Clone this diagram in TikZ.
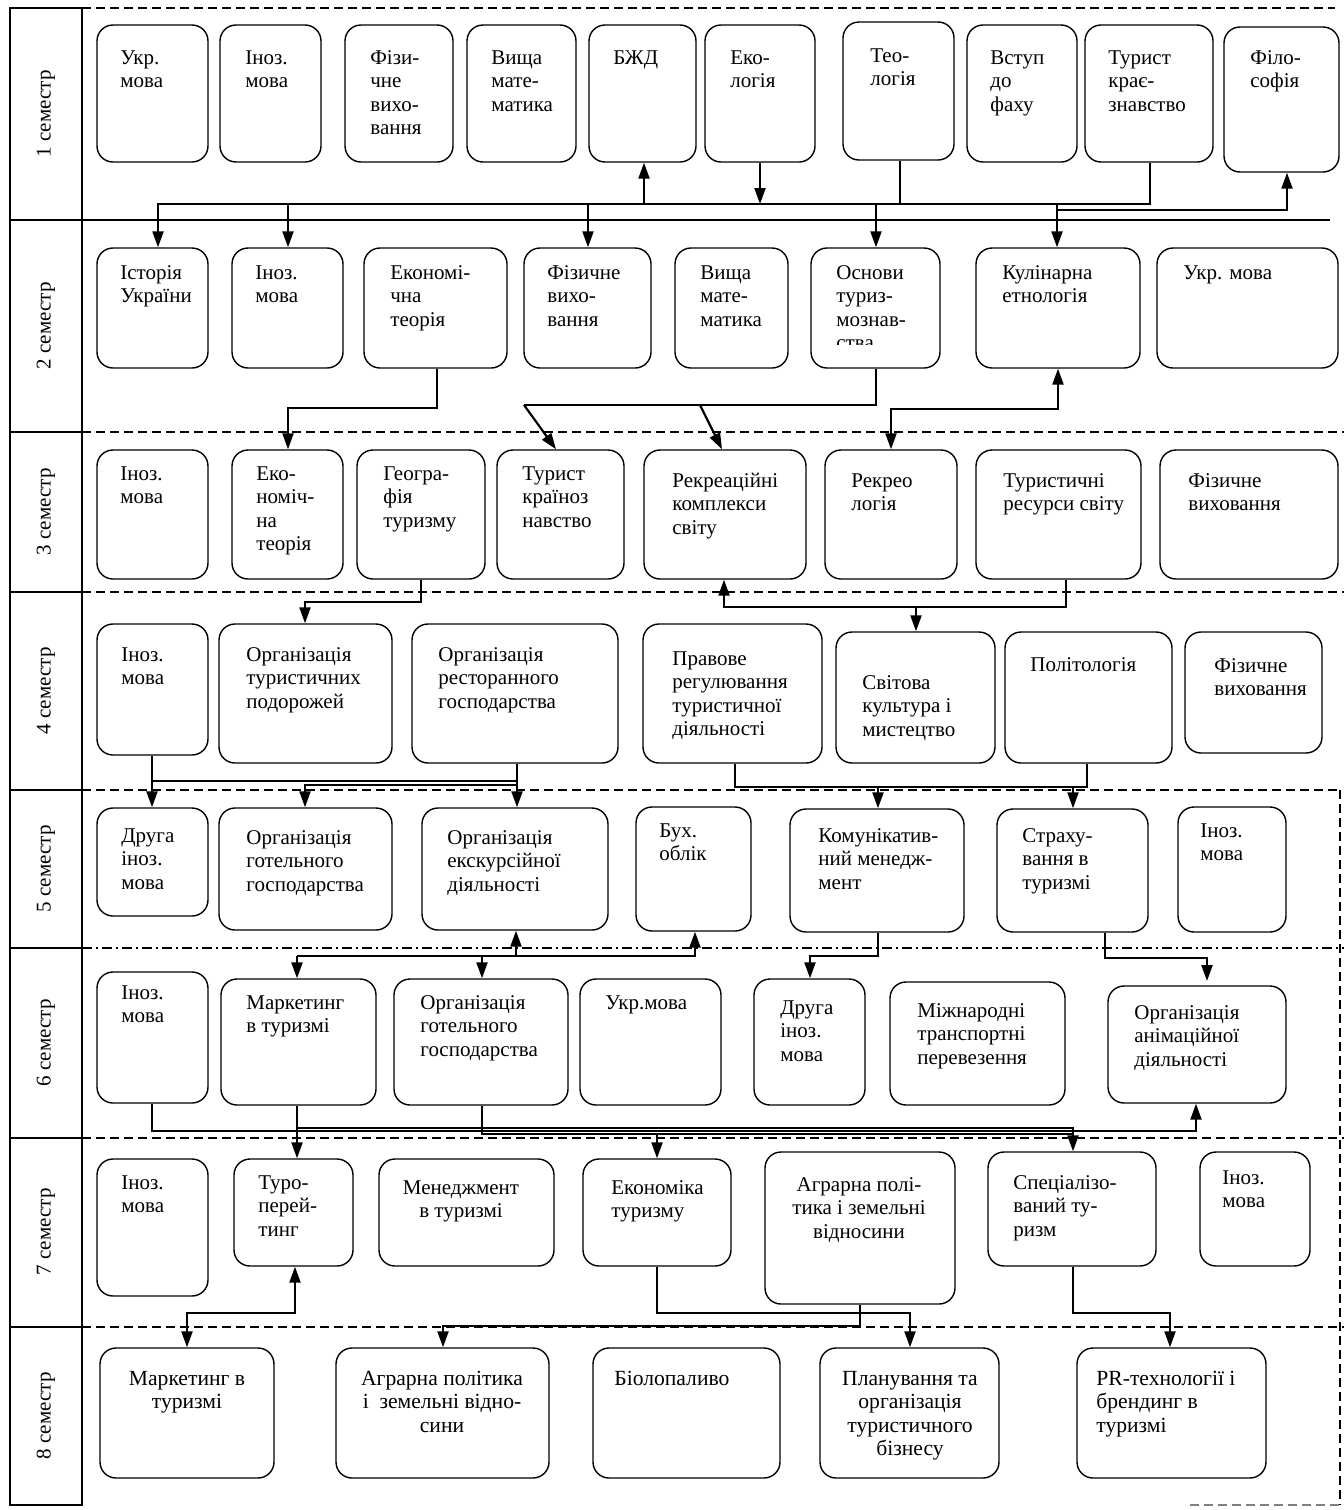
\documentclass[tikz,border=0pt]{standalone}
\usepackage{fontspec}
\setmainfont{Liberation Serif}
\usetikzlibrary{arrows.meta,fit}
\newcommand\fnN{\fontsize{10.5}{11.75}\selectfont}
\newcommand\fnR{\fontsize{10.8}{11.75}\selectfont}
\newcommand\bx[5]{\node[box, fit={(#2,#3) (#4,#5)}] (#1) {};}
\newcommand\tx[5]{\node[#2] (#1) at ({#3},{#4-10}) {\rule{0pt}{8.5pt}#5};}
\tikzset{
  box/.style={draw, rounded corners=8pt, line width=0.7pt, inner sep=0pt},
  tl/.style={anchor=north west, align=left, inner sep=0pt, font=\fnN},
  tc/.style={anchor=north, align=center, inner sep=0pt, font=\fnN},
  ln/.style={line width=1.1pt},
  arr/.style={ln, -{Triangle[length=8pt,width=5.5pt]}},
  arrb/.style={ln, {Triangle[length=8pt,width=5.5pt]}-{Triangle[length=8pt,width=5.5pt]}},
  sep/.style={line width=0.8pt, dash pattern=on 4.5pt off 2.5pt},
  sepdd/.style={line width=0.8pt, dash pattern=on 5pt off 2pt on 1pt off 2pt},
  lab/.style={rotate=90, font=\fnN, inner sep=0pt}
}
\begin{document}
\begin{tikzpicture}[x=0.5pt,y=-0.5pt]
\useasboundingbox (0,0) rectangle (1344,1510);
% left column and separators
\draw[line width=0.8pt] (10,8) rectangle (82,1505);
\foreach \yy in {432,592,790,948,1138,1327} {\draw[line width=0.8pt] (10,\yy) -- (82,\yy);}
\draw[line width=0.8pt] (10,220) -- (1330,220);
\draw[sep] (82,8) -- (1335,8);
\draw[sep] (82,432) -- (1344,432);
\draw[sep] (82,592) -- (1344,592);
\draw[sep] (82,790) -- (1340,790);
\draw[sepdd] (82,948) -- (1344,948);
\draw[sep] (82,1138) -- (1344,1138);
\draw[sep] (82,1327) -- (1344,1327);
\draw[sep] (1340,790) -- (1340,1505);
\draw[sep, gray] (1190,1505) -- (1340,1505);
\node[lab] (s1) at (46,114) {1 семестр};
\node[lab] (s2) at (46,326) {2 семестр};
\node[lab] (s3) at (46,512) {3 семестр};
\node[lab] (s4) at (46,691) {4 семестр};
\node[lab] (s5) at (46,869) {5 семестр};
\node[lab] (s6) at (46,1043) {6 семестр};
\node[lab] (s7) at (46,1232) {7 семестр};
\node[lab] (s8) at (46,1416) {8 семестр};
% ---- row 1
\bx{u1}{97}{25}{208}{162}   \tx{u1t}{tl}{120}{57}{Укр.\\мова}
\bx{i1}{220}{25}{321}{162}  \tx{i1t}{tl}{245}{57}{Іноз.\\мова}
\bx{f1}{345}{25}{453}{162}  \tx{f1t}{tl}{370}{57}{Фізи-\\чне\\вихо-\\вання}
\bx{v1}{467}{25}{576}{162}  \tx{v1t}{tl}{491}{57}{Вища\\мате-\\матика}
\bx{b1}{589}{25}{696}{162}  \tx{b1t}{tl}{613}{57}{БЖД}
\bx{e1}{705}{25}{815}{162}  \tx{e1t}{tl}{730}{57}{Еко-\\логія}
\bx{t1}{843}{22}{954}{160}  \tx{t1t}{tl}{870}{55}{Тео-\\логія}
\bx{vs1}{967}{25}{1077}{162} \tx{vs1t}{tl}{990}{57}{Вступ\\до\\фаху}
\bx{tk1}{1085}{25}{1213}{162} \tx{tk1t}{tl}{1108}{57}{Турист\\крає-\\знавство}
\bx{fl1}{1224}{27}{1339}{172} \tx{fl1t}{tl}{1250}{57}{Філо-\\софія}
% ---- row 2
\bx{is2}{97}{248}{208}{368}  \tx{is2t}{tl}{120}{272}{Історія\\України}
\bx{i2}{232}{248}{343}{368}  \tx{i2t}{tl}{255}{272}{Іноз.\\мова}
\bx{ek2}{364}{248}{507}{368} \tx{ek2t}{tl}{390}{272}{Економі-\\чна\\теорія}
\bx{f2}{524}{248}{651}{368}  \tx{f2t}{tl}{547}{272}{Фізичне\\вихо-\\вання}
\bx{v2}{675}{248}{788}{368}  \tx{v2t}{tl}{700}{272}{Вища\\мате-\\матика}
\bx{o2}{811}{248}{940}{368}
\begin{scope}
\clip (811,248) rectangle (940,344);
\tx{o2t}{tl}{836}{272}{Основи\\туриз-\\мознав-\\ства}
\end{scope}
\bx{k2}{976}{248}{1140}{368} \tx{k2t}{tl}{1002}{272}{Кулінарна\\етнологія}
\bx{uk2}{1157}{248}{1338}{368} \tx{uk2t}{tl}{1183}{272}{Укр. мова}
% ---- row 3
\bx{in3}{97}{450}{208}{579}  \tx{in3t}{tl}{120}{473}{Іноз.\\мова}
\bx{ek3}{232}{450}{343}{579} \tx{ek3t}{tl}{256}{473}{Еко-\\номіч-\\на\\теорія}
\bx{g3}{357}{450}{485}{579}  \tx{g3t}{tl}{383}{473}{Геогра-\\фія\\туризму}
\bx{tk3}{497}{450}{624}{579} \tx{tk3t}{tl}{522}{473}{Турист\\країноз\\навство}
\bx{rk3}{644}{450}{806}{579} \tx{rk3t}{tl}{672}{480}{Рекреаційні\\комплекси\\світу}
\bx{rl3}{825}{450}{957}{579} \tx{rl3t}{tl}{851}{480}{Рекрео\\логія}
\bx{tr3}{976}{450}{1141}{579} \tx{tr3t}{tl}{1003}{480}{Туристичні\\ресурси світу}
\bx{fz3}{1160}{450}{1338}{579} \tx{fz3t}{tl}{1188}{480}{Фізичне\\виховання}
% ---- row 4
\bx{in4}{97}{624}{208}{755}  \tx{in4t}{tl}{121}{654}{Іноз.\\мова}
\bx{ot4}{219}{624}{392}{763} \tx{ot4t}{tl}{246}{654}{Організація\\туристичних\\подорожей}
\bx{or4}{412}{624}{618}{763} \tx{or4t}{tl}{438}{654}{Організація\\ресторанного\\господарства}
\bx{pr4}{643}{624}{822}{763} \tx{pr4t}{tl}{672}{658}{Правове\\регулювання\\туристичної\\діяльності}
\bx{sv4}{836}{632}{995}{763} \tx{sv4t}{tl}{862}{682}{Світова\\культура і\\мистецтво}
\bx{po4}{1005}{632}{1172}{763} \tx{po4t}{tl}{1030}{664}{Політологія}
\bx{fz4}{1185}{632}{1322}{753} \tx{fz4t}{tl}{1214}{665}{Фізичне\\виховання}
% ---- row 5
\bx{di5}{97}{808}{208}{916}  \tx{di5t}{tl}{121}{835}{Друга\\іноз.\\мова}
\bx{og5}{219}{808}{392}{930} \tx{og5t}{tl}{246}{837}{Організація\\готельного\\господарства}
\bx{oe5}{422}{808}{608}{930} \tx{oe5t}{tl}{447}{837}{Організація\\екскурсійної\\діяльності}
\bx{bu5}{636}{807}{751}{931} \tx{bu5t}{tl}{659}{830}{Бух.\\облік}
\bx{km5}{790}{809}{964}{932} \tx{km5t}{tl}{818}{835}{Комунікатив-\\ний менедж-\\мент}
\bx{st5}{997}{809}{1148}{932} \tx{st5t}{tl}{1022}{835}{Страху-\\вання в\\туризмі}
\bx{in5}{1178}{807}{1286}{932} \tx{in5t}{tl}{1200}{830}{Іноз.\\мова}
% ---- row 6
\bx{in6}{97}{972}{208}{1103} \tx{in6t}{tl}{121}{992}{Іноз.\\мова}
\bx{mk6}{221}{979}{376}{1105} \tx{mk6t}{tl}{246}{1002}{Маркетинг\\в туризмі}
\bx{og6}{394}{979}{568}{1105} \tx{og6t}{tl}{420}{1002}{Організація\\готельного\\господарства}
\bx{uk6}{580}{979}{721}{1105} \tx{uk6t}{tl}{605}{1002}{Укр.мова}
\bx{dr6}{754}{979}{865}{1105} \tx{dr6t}{tl}{780}{1007}{Друга\\іноз.\\мова}
\bx{mz6}{890}{982}{1065}{1105} \tx{mz6t}{tl}{917}{1010}{Міжнародні\\транспортні\\перевезення}
\bx{an6}{1108}{986}{1286}{1103} \tx{an6t}{tl}{1134}{1012}{Організація\\анімаційної\\діяльності}
% ---- row 7
\bx{in7}{97}{1159}{208}{1296} \tx{in7t}{tl}{121}{1182}{Іноз.\\мова}
\bx{tp7}{234}{1159}{353}{1266} \tx{tp7t}{tl}{258}{1182}{Туро-\\перей-\\тинг}
\bx{mn7}{379}{1159}{554}{1266} \tx{mn7t}{tc}{461}{1187}{Менеджмент\\в туризмі}
\bx{ec7}{583}{1159}{731}{1266} \tx{ec7t}{tl}{611}{1187}{Економіка\\туризму}
\bx{ag7}{765}{1152}{955}{1304} \tx{ag7t}{tc}{859}{1184}{Аграрна полі-\\тика і земельні\\відносини}
\bx{sp7}{988}{1152}{1156}{1266} \tx{sp7t}{tl}{1013}{1182}{Спеціалізо-\\ваний ту-\\ризм}
\bx{in7b}{1200}{1152}{1310}{1266} \tx{in7bt}{tl}{1222}{1177}{Іноз.\\мова}
% ---- row 8
\bx{mk8}{100}{1348}{274}{1478} \tx{mk8t}{tc,font=\fnR}{187}{1378}{Маркетинг в\\туризмі}
\bx{ag8}{336}{1348}{549}{1478} \tx{ag8t}{tc,font=\fnR}{442}{1378}{Аграрна політика\\і~ земельні відно-\\сини}
\bx{bi8}{593}{1348}{780}{1478} \tx{bi8t}{tl,font=\fnR}{614}{1378}{Біолопаливо}
\bx{pl8}{820}{1348}{999}{1478} \tx{pl8t}{tc,font=\fnR}{910}{1378}{Планування та\\організація\\туристичного\\бізнесу}
\bx{pr8}{1077}{1348}{1266}{1478} \tx{pr8t}{tl,font=\fnR}{1096}{1378}{PR-технології і\\брендинг в\\туризмі}
% ---- connectors 1 -> 2
\draw[arr] (tk1.south -| 1150,0) -- (1150,204) -- (158,204) -- (is2.north -| 158,0);
\draw[ln] (t1.south -| 900,0) -- (900,204);
\draw[arr] (e1.south -| 760,0) -- (760,204);
\draw[arr] (644,204) -- (b1.south -| 644,0);
\draw[arr] (288,204) -- (i2.north -| 288,0);
\draw[arr] (588,204) -- (f2.north -| 588,0);
\draw[arr] (876,204) -- (o2.north -| 876,0);
\draw[arr] (1057,204) -- (k2.north -| 1057,0);
\draw[arr] (1057,210) -- (1287,210) -- (fl1.south -| 1287,0);
% ---- 2 -> 3
\draw[arr] (ek2.south -| 437,0) -- (437,408) -- (288,408) -- (ek3.north -| 288,0);
\draw[ln] (o2.south -| 876,0) -- (876,405) -- (524,405);
\draw[arr] (524,405) -- (tk3.north -| 556,0);
\draw[arr] (700,405) -- (rk3.north -| 722,0);
\draw[arrb] (rl3.north -| 891,0) -- (891,409) -- (1058,409) -- (k2.south -| 1058,0);
% ---- 3 -> 4
\draw[arr] (g3.south -| 421,0) -- (421,602) -- (305,602) -- (ot4.north -| 305,0);
\draw[arr] (tr3.south -| 1066,0) -- (1066,607) -- (724,607) -- (rk3.south -| 724,0);
\draw[arr] (916,607) -- (sv4.north -| 916,0);
% ---- 4 -> 5
\draw[arr] (in4.south -| 152,0) -- (di5.north -| 152,0);
\draw[ln] (152,781) -- (517,781);
\draw[arr] (or4.south -| 517,0) -- (oe5.north -| 517,0);
\draw[arr] (517,785) -- (305,785) -- (og5.north -| 305,0);
\draw[ln] (pr4.south -| 735,0) -- (735,787) -- (1087,787) -- (po4.south -| 1087,0);
\draw[arr] (878,787) -- (km5.north -| 878,0);
\draw[arr] (1073,787) -- (st5.north -| 1073,0);
% ---- 5 -> 6
\draw[arr] (516,956) -- (oe5.south -| 516,0);
\draw[arr] (297,956) -- (695,956) -- (bu5.south -| 695,0);
\draw[arr] (297,956) -- (mk6.north -| 297,0);
\draw[arr] (482,956) -- (og6.north -| 482,0);
\draw[arr] (km5.south -| 878,0) -- (878,956) -- (810,956) -- (dr6.north -| 810,0);
\draw[arr] (st5.south -| 1105,0) -- (1105,958) -- (1207,958) -- (1207,981);
% ---- 6 -> 7
\draw[arr] (in6.south -| 152,0) -- (152,1131) -- (1196,1131) -- (an6.south -| 1196,0);
\draw[arr] (mk6.south -| 297,0) -- (tp7.north -| 297,0);
\draw[arr] (297,1128) -- (1073,1128) -- (sp7.north -| 1073,0);
\draw[ln] (og6.south -| 482,0) -- (482,1134) -- (1073,1134);
\draw[arr] (657,1134) -- (ec7.north -| 657,0);
% ---- 7 -> 8
\draw[arrb] (mk8.north -| 187,0) -- (187,1313) -- (295,1313) -- (tp7.south -| 295,0);
\draw[arr] (ec7.south -| 657,0) -- (657,1313) -- (910,1313) -- (pl8.north -| 910,0);
\draw[arr] (ag7.south -| 860,0) -- (860,1326) -- (443,1326) -- (ag8.north -| 443,0);
\draw[arr] (sp7.south -| 1073,0) -- (1073,1313) -- (1170,1313) -- (pr8.north -| 1170,0);
\end{tikzpicture}
\end{document}
